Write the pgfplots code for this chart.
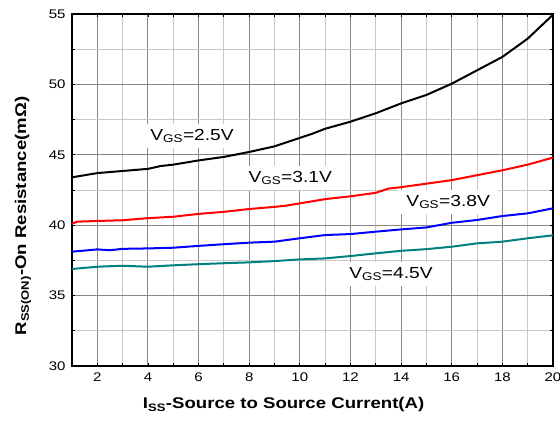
\documentclass[border=0pt]{standalone}
\usepackage{pgfplots}
\pgfplotsset{compat=1.18}
\usepackage{fontspec}
\setmainfont{Liberation Sans}[FakeStretch=1.2]
\definecolor{tealc}{RGB}{0,128,128}
\definecolor{majgrid}{RGB}{135,135,135}
\definecolor{mingrid}{RGB}{200,200,200}
\begin{document}
\begin{tikzpicture}
\begin{axis}[
  scale only axis,
  width=481pt, height=352pt,
  xmin=1, xmax=20, ymin=30, ymax=55,
  xtick={2,4,...,20}, minor xtick={1,3,...,19},
  ytick={30,35,...,55}, minor ytick={32.5,37.5,...,52.5},
  grid=both,
  major grid style={majgrid, line width=0.9pt},
  minor grid style={mingrid, line width=0.9pt},
  axis line style={black, line width=2.2pt},
  tick style={black, line width=0.8pt},
  major tick length=3pt, minor tick length=3pt,
  tick align=inside,
  /pgf/number format/assume math mode=true,
  ticklabel style={font=\fontsize{12.5}{14}\selectfont},
  xticklabel style={yshift=-3pt},
  yticklabel style={xshift=-3pt},
  xlabel={\bfseries I\textsubscript{SS}-Source to Source Current(A)},
  ylabel={\bfseries R\textsubscript{SS(ON)}-On Resistance(mΩ)},
  xlabel style={at={(axis description cs:0.44,0)}, anchor=north, yshift=-28pt, font=\fontsize{15.5}{17}\selectfont},
  ylabel style={at={(axis description cs:-0.1019,0.426)}, anchor=center, font=\fontsize{15.5}{17}\selectfont},
  every axis plot/.append style={line width=2pt, line join=round},
  clip=true,
]
\addplot[black] coordinates {
(1,43.4) (1.5,43.55) (2,43.7) (3,43.85) (4,44.0) (4.5,44.2) (5,44.3) (6,44.6) (7,44.85) (8,45.2) (9,45.6) (10,46.2) (10.5,46.5) (11,46.85) (11.5,47.1) (12,47.35) (13,47.95) (14,48.65) (15,49.25) (16,50.05) (17,51.0) (18,51.95) (19,53.25) (20,54.95)
};
\addplot[red] coordinates {
(1,40.1) (1.2,40.25) (2,40.3) (3,40.35) (4,40.5) (5,40.6) (6,40.8) (7,40.95) (8,41.15) (9,41.3) (9.5,41.4) (10,41.55) (10.5,41.7) (11,41.85) (12,42.05) (13,42.3) (13.5,42.6) (14,42.7) (15,42.95) (16,43.2) (17,43.55) (18,43.9) (19,44.3) (20,44.8)
};
\addplot[blue] coordinates {
(1,38.12) (2,38.28) (2.5,38.22) (3,38.32) (4,38.35) (5,38.4) (6,38.53) (7,38.65) (8,38.76) (9,38.83) (10,39.07) (11,39.3) (12,39.37) (13,39.54) (14,39.7) (15,39.84) (16,40.17) (17,40.37) (18,40.65) (19,40.84) (20,41.2)
};
\addplot[tealc] coordinates {
(1,36.89) (2,37.05) (3,37.12) (4,37.05) (5,37.15) (6,37.23) (7,37.3) (8,37.36) (9,37.45) (10,37.57) (11,37.64) (12,37.81) (13,38.0) (14,38.18) (15,38.3) (16,38.47) (17,38.71) (18,38.83) (19,39.07) (20,39.28)
};
\tikzset{vlab/.style={fill=white, inner xsep=8pt, inner ysep=5pt, font=\fontsize{16}{18}\selectfont}}
\node[vlab] at (axis cs:5.74,46.33) {V\textsubscript{GS}=2.5V};
\node[vlab] at (axis cs:9.62,43.35) {V\textsubscript{GS}=3.1V};
\node[vlab] at (axis cs:15.86,41.65) {V\textsubscript{GS}=3.8V};
\node[vlab] at (axis cs:13.6,36.53) {V\textsubscript{GS}=4.5V};
\end{axis}
\pgfresetboundingbox
\path[use as bounding box] ([xshift=-72pt,yshift=-55pt]current axis.south west) rectangle ([xshift=7pt,yshift=14pt]current axis.north east);
\end{tikzpicture}
\end{document}
